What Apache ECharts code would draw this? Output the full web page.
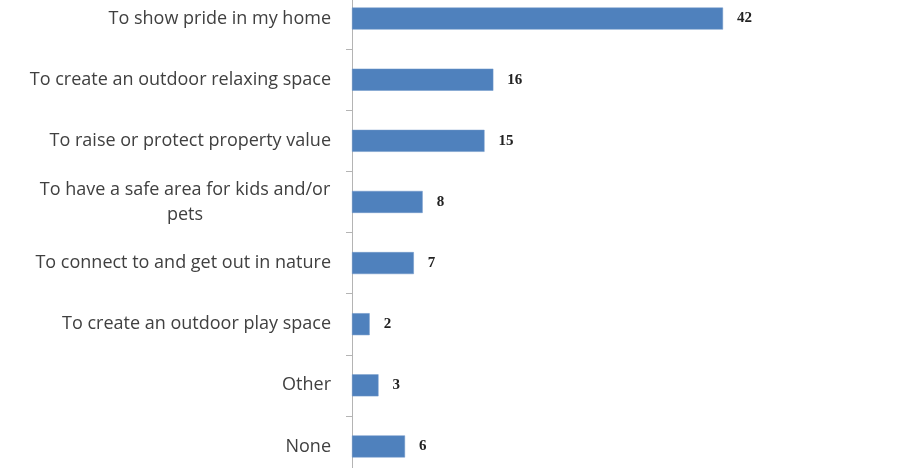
<!DOCTYPE html>
<html lang="en">
<head>
    <meta charset="UTF-8">
    <title>Reasons</title>
    <script src="https://cdn.jsdelivr.net/npm/echarts@6/dist/echarts.min.js"></script>
</head>
<body style="margin:0;background:#fff;overflow:hidden;">
<!-- the plot runs a bit past the top and bottom of the picture, like the cropped original -->
<div id="main" style="height:489px;width:908px;margin-top:-12px;"></div>
<script>

var categories = [
    'To show pride in my home',
    'To create an outdoor relaxing space',
    'To raise or protect property value',
    'To have a safe area for kids and/or pets',
    'To connect to and get out in nature',
    'To create an outdoor play space',
    'Other',
    'None'
];
var values = [42, 16, 15, 8, 7, 2, 3, 6];

var myChart = echarts.init(document.getElementById('main'));

var option = {
    backgroundColor: '#ffffff',
    animation: false,
    grid: {
        left: 352,
        width: 397.5,
        top: 0,
        bottom: 0
    },
    xAxis: {
        type: 'value',
        min: 0,
        max: 45,
        show: false
    },
    yAxis: {
        type: 'category',
        inverse: true,
        data: categories,
        axisLine: {lineStyle: {color: '#b4b4b4', width: 1}},
        axisTick: {show: true, length: 6, lineStyle: {color: '#b4b4b4'}},
        axisLabel: {
            margin: 21,
            color: '#404040',
            fontFamily: 'Open Sans',
            fontSize: 18,
            formatter: function (v) {
                // excel wraps this long one onto two lines
                if (v.indexOf('and/or ') >= 0) {
                    var p = v.split('and/or ');
                    return '{c|' + p[0] + 'and/or}\n{c|' + p[1] + '}';
                }
                return v;
            },
            rich: {
                c: {width: 292, align: 'center', lineHeight: 25, fontSize: 18, fontFamily: 'Open Sans', color: '#404040'}
            }
        }
    },
    series: [
        {
            type: 'bar',
            data: values,
            barWidth: 22,
            itemStyle: {color: '#4f81bd', borderColor: '#6f97c9', borderWidth: 0.5},
            label: {
                show: true,
                position: 'right',
                distance: 14,
                color: '#222',
                fontFamily: 'Liberation Serif',
                fontWeight: 'bold',
                fontSize: 15
            }
        }
    ]
};

myChart.setOption(option);
</script>
</body>
</html>
